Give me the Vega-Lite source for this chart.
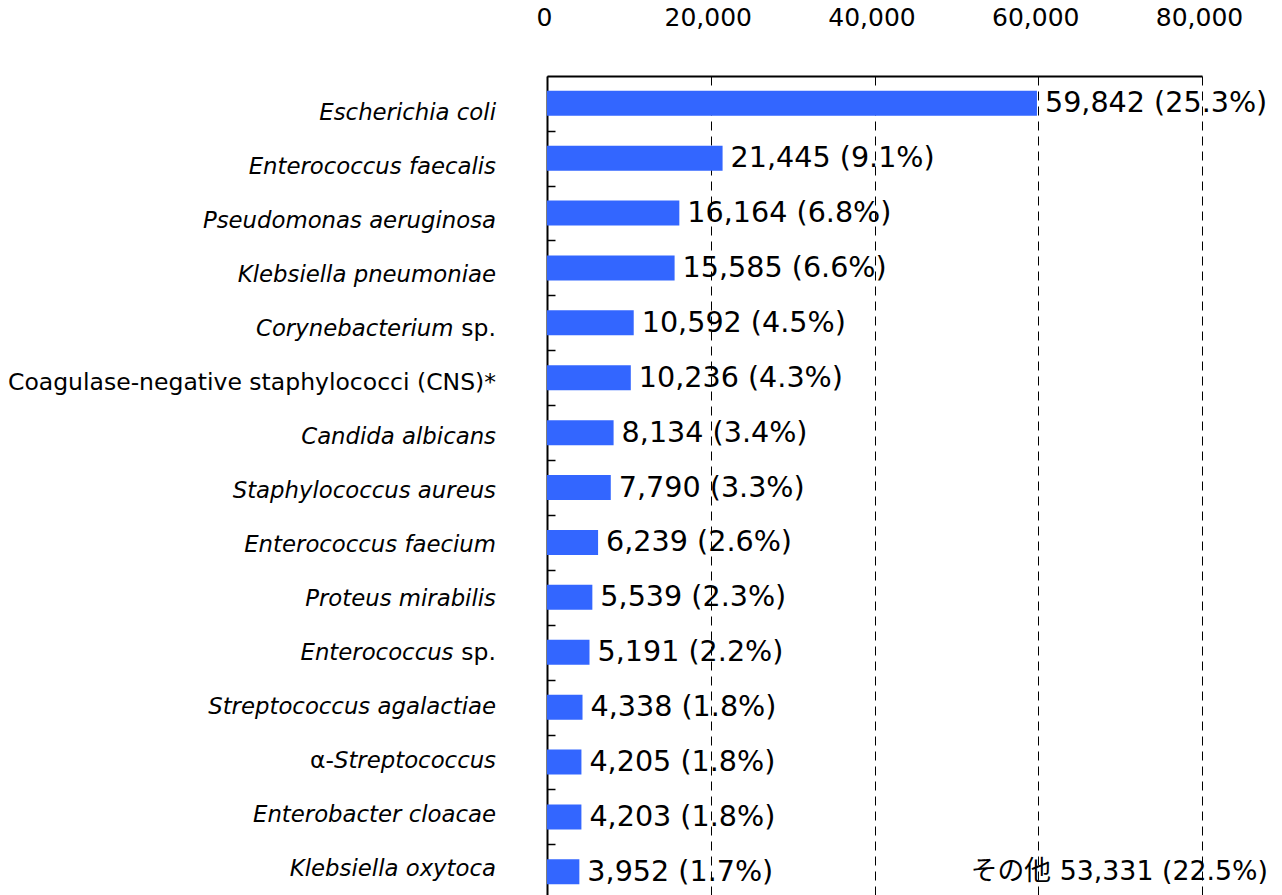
{
  "$schema": "https://vega.github.io/schema/vega-lite/v6.json",
  "width": 655,
  "height": 819,
  "autosize": "none",
  "padding": {"left": 547, "top": 76, "right": 80, "bottom": 0},
  "config": {"view": {"stroke": null}, "font": "DejaVu Sans"},
  "datasets": {
    "main": [
      {"name": "Escherichia coli", "count": 59842, "pct": 25.3, "label": "59,842 (25.3%)", "italic": "Escherichia coli", "prefix": "", "suffix": ""},
      {"name": "Enterococcus faecalis", "count": 21445, "pct": 9.1, "label": "21,445 (9.1%)", "italic": "Enterococcus faecalis", "prefix": "", "suffix": ""},
      {"name": "Pseudomonas aeruginosa", "count": 16164, "pct": 6.8, "label": "16,164 (6.8%)", "italic": "Pseudomonas aeruginosa", "prefix": "", "suffix": ""},
      {"name": "Klebsiella pneumoniae", "count": 15585, "pct": 6.6, "label": "15,585 (6.6%)", "italic": "Klebsiella pneumoniae", "prefix": "", "suffix": ""},
      {"name": "Corynebacterium sp.", "count": 10592, "pct": 4.5, "label": "10,592 (4.5%)", "italic": "Corynebacterium", "prefix": "", "suffix": "sp."},
      {"name": "Coagulase-negative staphylococci (CNS)*", "count": 10236, "pct": 4.3, "label": "10,236 (4.3%)", "italic": "", "prefix": "", "suffix": ""},
      {"name": "Candida albicans", "count": 8134, "pct": 3.4, "label": "8,134 (3.4%)", "italic": "Candida albicans", "prefix": "", "suffix": ""},
      {"name": "Staphylococcus aureus", "count": 7790, "pct": 3.3, "label": "7,790 (3.3%)", "italic": "Staphylococcus aureus", "prefix": "", "suffix": ""},
      {"name": "Enterococcus faecium", "count": 6239, "pct": 2.6, "label": "6,239 (2.6%)", "italic": "Enterococcus faecium", "prefix": "", "suffix": ""},
      {"name": "Proteus mirabilis", "count": 5539, "pct": 2.3, "label": "5,539 (2.3%)", "italic": "Proteus mirabilis", "prefix": "", "suffix": ""},
      {"name": "Enterococcus sp.", "count": 5191, "pct": 2.2, "label": "5,191 (2.2%)", "italic": "Enterococcus", "prefix": "", "suffix": "sp."},
      {"name": "Streptococcus agalactiae", "count": 4338, "pct": 1.8, "label": "4,338 (1.8%)", "italic": "Streptococcus agalactiae", "prefix": "", "suffix": ""},
      {"name": "α-Streptococcus", "count": 4205, "pct": 1.8, "label": "4,205 (1.8%)", "italic": "Streptococcus", "prefix": "α-", "suffix": ""},
      {"name": "Enterobacter cloacae", "count": 4203, "pct": 1.8, "label": "4,203 (1.8%)", "italic": "Enterobacter cloacae", "prefix": "", "suffix": ""},
      {"name": "Klebsiella oxytoca", "count": 3952, "pct": 1.7, "label": "3,952 (1.7%)", "italic": "Klebsiella oxytoca", "prefix": "", "suffix": ""}
    ],
    "other": [
      {"name": "その他", "count": 53331, "pct": 22.5, "label": "その他 53,331 (22.5%)"}
    ]
  },
  "data": {"name": "main"},
  "resolve": {"scale": {"y": "independent"}},
  "layer": [
    {
      "layer": [
        {
          "mark": {"type": "bar", "color": "#3366FF"},
          "encoding": {
            "y": {
              "field": "name", "type": "nominal", "sort": null,
              "scale": {
                "domain": ["Escherichia coli", "Enterococcus faecalis", "Pseudomonas aeruginosa", "Klebsiella pneumoniae", "Corynebacterium sp.", "Coagulase-negative staphylococci (CNS)*", "Candida albicans", "Staphylococcus aureus", "Enterococcus faecium", "Proteus mirabilis", "Enterococcus sp.", "Streptococcus agalactiae", "α-Streptococcus", "Enterobacter cloacae", "Klebsiella oxytoca"],
                "paddingInner": 0.5446, "paddingOuter": 0.2313, "align": 0.58
              },
              "axis": {"labels": false, "title": null, "tickOffset": 27.45, "tickSize": -8, "tickColor": "black", "tickWidth": 1.5, "domainColor": "black", "domainWidth": 2, "grid": false}
            },
            "x": {
              "field": "count", "type": "quantitative",
              "scale": {"domain": [0, 80000], "nice": false},
              "axis": {"orient": "top", "values": [0, 20000, 40000, 60000, 80000], "labelExpr": "format(datum.value, ',')", "title": null, "ticks": false, "labelPadding": 46, "labelFontSize": 25, "labelColor": "black", "labelFont": "DejaVu Sans", "labelOffset": -3, "labelFlush": false, "domainColor": "black", "domainWidth": 2, "grid": true, "gridColor": "black", "gridDash": [9, 6], "gridWidth": 1}
            }
          }
        },
        {
          "mark": {"type": "text", "align": "left", "baseline": "middle", "dx": 8, "fontSize": 28.6, "color": "black", "font": "DejaVu Sans"},
          "encoding": {
            "y": {"field": "name", "type": "nominal", "sort": null},
            "x": {"field": "count", "type": "quantitative"},
            "text": {"field": "label"}
          }
        },
        {
          "data": {"name": "other"},
          "mark": {"type": "text", "align": "right", "baseline": "middle", "dx": 66, "fontSize": 26.8, "color": "black", "font": "DejaVu Sans, Noto Sans CJK JP"},
          "encoding": {
            "x": {"datum": 80000, "type": "quantitative"},
            "y": {"datum": "Klebsiella oxytoca", "type": "nominal"},
            "text": {"field": "label"}
          }
        }
      ]
    },
    {
      "encoding": {
        "y": {
          "field": "name", "type": "nominal", "sort": null,
          "scale": {
            "type": "point",
            "domain": ["Escherichia coli", "Enterococcus faecalis", "Pseudomonas aeruginosa", "Klebsiella pneumoniae", "Corynebacterium sp.", "Coagulase-negative staphylococci (CNS)*", "Candida albicans", "Staphylococcus aureus", "Enterococcus faecium", "Proteus mirabilis", "Enterococcus sp.", "Streptococcus agalactiae", "α-Streptococcus", "Enterobacter cloacae", "Klebsiella oxytoca"],
            "padding": 0.583, "align": 0.595
          },
          "axis": null
        },
        "x": {"datum": 0, "type": "quantitative"}
      },
      "layer": [
        {
          "transform": [{"filter": "datum.italic != '' && datum.prefix == '' && datum.suffix == ''"}],
          "mark": {"type": "text", "align": "right", "baseline": "middle", "dx": -51, "fontSize": 22.8, "fontStyle": "italic", "color": "black", "font": "DejaVu Sans"},
          "encoding": {"text": {"field": "italic"}}
        },
        {
          "transform": [{"filter": "datum.suffix != ''"}],
          "mark": {"type": "text", "align": "right", "baseline": "middle", "dx": -93.5, "fontSize": 22.8, "fontStyle": "italic", "color": "black", "font": "DejaVu Sans"},
          "encoding": {"text": {"field": "italic"}}
        },
        {
          "transform": [{"filter": "datum.suffix != ''"}],
          "mark": {"type": "text", "align": "right", "baseline": "middle", "dx": -51, "fontSize": 23.5, "color": "black", "font": "DejaVu Sans"},
          "encoding": {"text": {"field": "suffix"}}
        },
        {
          "transform": [{"filter": "datum.prefix != ''"}],
          "mark": {"type": "text", "align": "right", "baseline": "middle", "dx": -51, "fontSize": 22.8, "fontStyle": "italic", "color": "black", "font": "DejaVu Sans"},
          "encoding": {"text": {"field": "italic"}}
        },
        {
          "transform": [{"filter": "datum.prefix != ''"}],
          "mark": {"type": "text", "align": "right", "baseline": "middle", "dx": -213, "fontSize": 23.5, "color": "black", "font": "DejaVu Sans"},
          "encoding": {"text": {"field": "prefix"}}
        },
        {
          "transform": [{"filter": "datum.italic == ''"}],
          "mark": {"type": "text", "align": "right", "baseline": "middle", "dx": -51, "fontSize": 23.5, "color": "black", "font": "DejaVu Sans"},
          "encoding": {"text": {"field": "name"}}
        }
      ]
    }
  ]
}
